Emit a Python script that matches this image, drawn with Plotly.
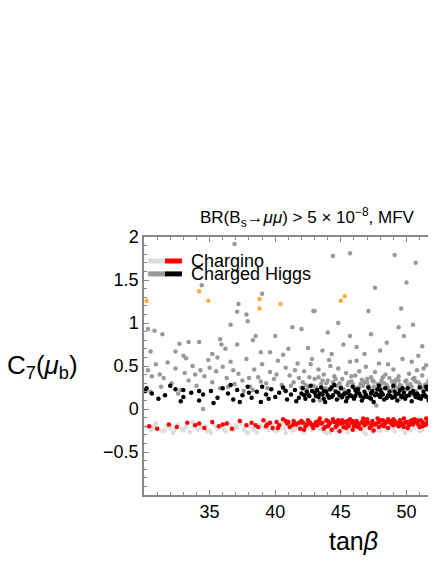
import plotly.graph_objects as go

# tan(beta) vs C7(mu_b) scan points
chargino_light = [
    (30.2, -0.21), (30.5, -0.24), (30.8, -0.19), (31.1, -0.23), (31.4, -0.26), (31.7, -0.20),
    (32.0, -0.22), (32.3, -0.25), (32.6, -0.18), (32.9, -0.23), (33.2, -0.21), (33.5, -0.27),
    (33.8, -0.19), (34.1, -0.24), (34.4, -0.22), (34.7, -0.20), (35.0, -0.25), (35.3, -0.18),
    (35.6, -0.23), (35.9, -0.21), (36.2, -0.26), (36.5, -0.19), (36.8, -0.24), (37.1, -0.22),
    (37.4, -0.17), (37.7, -0.25), (38.0, -0.20), (38.3, -0.23), (38.6, -0.27), (38.9, -0.19),
    (39.2, -0.22), (39.5, -0.24), (39.8, -0.18), (40.1, -0.26), (40.4, -0.21), (40.7, -0.23),
    (41.0, -0.19), (41.3, -0.25), (41.6, -0.22), (41.9, -0.20), (42.2, -0.27), (42.5, -0.18),
    (42.8, -0.24), (43.1, -0.21), (43.4, -0.23), (43.7, -0.26), (44.0, -0.19), (44.3, -0.22),
    (44.6, -0.25), (44.9, -0.20), (45.2, -0.23), (45.5, -0.27), (45.8, -0.18), (46.1, -0.24),
    (46.4, -0.21), (46.7, -0.26), (47.0, -0.19), (47.3, -0.23), (47.6, -0.22), (47.9, -0.25),
    (48.2, -0.20), (48.5, -0.24), (48.8, -0.18), (49.1, -0.26), (49.4, -0.21), (49.7, -0.23),
    (50.0, -0.19), (50.3, -0.25), (50.6, -0.22), (50.9, -0.20), (51.2, -0.24), (51.5, -0.18),
    (51.8, -0.23), (52.1, -0.21), (30.9, -0.16), (32.2, -0.28), (33.7, -0.15), (35.1, -0.28),
    (36.4, -0.16), (37.9, -0.28), (39.3, -0.15), (40.8, -0.28), (42.3, -0.15), (43.9, -0.28),
    (45.4, -0.16), (46.9, -0.29), (48.4, -0.15), (49.9, -0.28), (51.4, -0.16), (31.6, -0.25),
    (34.8, -0.26), (36.9, -0.21), (38.4, -0.24), (41.2, -0.22), (44.5, -0.25), (47.4, -0.27),
    (30.7, -0.22), (31.9, -0.20), (33.0, -0.25), (34.3, -0.18), (35.5, -0.21), (36.1, -0.24),
    (37.0, -0.19), (37.6, -0.23), (38.8, -0.21), (39.9, -0.25), (40.5, -0.17), (41.5, -0.24),
    (42.6, -0.21), (43.5, -0.19), (44.2, -0.27), (45.0, -0.22), (46.0, -0.20), (46.8, -0.23),
    (48.0, -0.25), (49.0, -0.22), (50.2, -0.24), (51.0, -0.26), (51.7, -0.20), (52.0, -0.25),
]
chargino_red = [
    (30.4, -0.20), (31.0, -0.23), (31.9, -0.18), (32.5, -0.21), (33.3, -0.16), (33.9, -0.19),
    (34.6, -0.22), (35.2, -0.15), (35.7, -0.20), (36.3, -0.17), (36.7, -0.23), (37.3, -0.14),
    (37.8, -0.19), (38.2, -0.16), (38.7, -0.21), (39.1, -0.13), (39.4, -0.18), (39.8, -0.22),
    (40.1, -0.15), (40.3, -0.19), (40.6, -0.12), (40.9, -0.17), (41.1, -0.21), (41.4, -0.14),
    (41.6, -0.18), (41.9, -0.23), (42.1, -0.16), (42.3, -0.20), (42.5, -0.13), (42.7, -0.17),
    (42.9, -0.22), (43.1, -0.15), (43.2, -0.19), (43.4, -0.11), (43.6, -0.16), (43.8, -0.21),
    (44.0, -0.14), (44.1, -0.18), (44.3, -0.24), (44.5, -0.15), (44.7, -0.19), (44.8, -0.13),
    (45.0, -0.17), (45.2, -0.21), (45.3, -0.15), (45.5, -0.18), (45.7, -0.12), (45.8, -0.16),
    (46.0, -0.20), (46.2, -0.14), (46.3, -0.17), (46.5, -0.23), (46.6, -0.15), (46.8, -0.19),
    (47.0, -0.12), (47.1, -0.16), (47.3, -0.20), (47.4, -0.14), (47.6, -0.18), (47.8, -0.11),
    (47.9, -0.15), (48.1, -0.19), (48.2, -0.13), (48.4, -0.17), (48.6, -0.22), (48.7, -0.14),
    (48.9, -0.18), (49.0, -0.12), (49.2, -0.16), (49.4, -0.20), (49.5, -0.13), (49.7, -0.17),
    (49.8, -0.11), (50.0, -0.15), (50.2, -0.19), (50.3, -0.14), (50.5, -0.18), (50.6, -0.12),
    (50.8, -0.16), (51.0, -0.21), (51.1, -0.13), (51.3, -0.17), (51.5, -0.11), (51.6, -0.15),
    (51.8, -0.19), (51.9, -0.13), (52.1, -0.16), (40.2, -0.22), (40.8, -0.14), (41.3, -0.19),
    (41.8, -0.16), (42.2, -0.24), (42.8, -0.19), (43.3, -0.14), (43.7, -0.23), (44.2, -0.16),
    (44.6, -0.21), (45.1, -0.13), (45.6, -0.20), (45.9, -0.24), (46.4, -0.18), (46.9, -0.15),
    (47.2, -0.22), (47.7, -0.17), (48.0, -0.13), (48.3, -0.20), (48.8, -0.16), (49.1, -0.14),
    (49.6, -0.19), (49.9, -0.16), (50.4, -0.13), (50.9, -0.18), (51.2, -0.15), (51.7, -0.12),
    (52.0, -0.18), (43.0, -0.18), (44.4, -0.12), (45.4, -0.22), (46.7, -0.11), (47.5, -0.25),
    (48.5, -0.15), (49.3, -0.18), (50.1, -0.22), (50.7, -0.14), (51.4, -0.19), (44.9, -0.26),
    (46.1, -0.17), (41.5, -0.17), (39.6, -0.16), (38.5, -0.19), (36.0, -0.18), (34.2, -0.17),
    (42.0, -0.14), (42.4, -0.18), (43.5, -0.17), (43.9, -0.13), (44.7, -0.15), (45.2, -0.16),
    (45.9, -0.14), (46.3, -0.21), (46.8, -0.17), (47.4, -0.18), (47.9, -0.21), (48.3, -0.15),
    (48.6, -0.12), (49.0, -0.19), (49.5, -0.15), (49.8, -0.21), (50.3, -0.17), (50.8, -0.13),
    (51.2, -0.20), (51.6, -0.17), (52.0, -0.14), (41.0, -0.15), (42.6, -0.15), (44.0, -0.20),
    (45.5, -0.14), (47.0, -0.17), (48.9, -0.14), (50.5, -0.16), (51.9, -0.21), (39.3, -0.20),
]
higgs_gray = [
    (30.3, 0.93), (30.8, 0.91), (31.4, 0.87), (30.5, 0.67), (32.4, 0.67), (32.7, 0.76),
    (33.4, 0.78), (34.2, 0.78), (34.4, 1.44), (37.2, 1.22), (37.1, 1.13), (37.8, 1.10),
    (37.9, 1.02), (36.6, 0.98), (35.8, 0.81), (35.9, 0.75), (37.1, 0.75), (38.5, 0.85),
    (38.3, 0.80), (40.0, 0.85), (41.3, 0.95), (42.0, 0.93), (42.9, 1.14), (44.8, 1.00),
    (44.0, 0.89), (45.7, 0.85), (45.2, 0.75), (47.3, 0.87), (47.1, 1.14), (49.6, 1.17),
    (49.4, 0.95), (50.5, 0.98), (49.8, 0.85), (48.5, 0.77), (51.2, 0.73), (36.9, 1.92),
    (44.4, 1.78), (45.7, 1.81), (49.1, 1.79), (50.7, 1.70), (50.0, 1.47), (47.6, 1.41),
    (51.9, 1.37), (39.0, 1.34), (43.0, 1.14), (39.6, 0.66), (41.0, 0.70), (43.6, 0.68),
    (46.2, 0.72), (46.8, 0.64), (48.0, 0.68), (50.9, 0.62), (52.0, 0.66), (33.0, 0.62),
    (35.2, 0.64), (36.2, 0.70), (38.9, 0.66), (40.6, 0.63), (42.5, 0.71), (44.3, 0.64),
    (30.3, 0.45), (30.6, 0.38), (30.9, 0.52), (31.2, 0.40), (31.5, 0.36), (31.8, 0.54),
    (32.1, 0.30), (32.4, 0.47), (32.8, 0.22), (33.1, 0.42), (33.4, 0.33), (33.7, 0.50),
    (34.0, 0.27), (34.3, 0.45), (34.6, 0.38), (34.9, 0.57), (35.2, 0.31), (35.5, 0.44),
    (35.8, 0.24), (36.0, 0.49), (36.3, 0.36), (36.6, 0.55), (36.9, 0.29), (37.2, 0.41),
    (37.5, 0.33), (37.8, 0.58), (38.1, 0.26), (38.4, 0.46), (38.7, 0.37), (39.0, 0.52),
    (39.3, 0.30), (39.6, 0.43), (39.9, 0.35), (40.2, 0.56), (40.5, 0.28), (40.8, 0.48),
    (41.1, 0.39), (41.4, 0.31), (41.7, 0.53), (42.0, 0.25), (30.5, 0.20), (31.3, 0.26),
    (32.6, 0.18), (33.9, 0.40), (35.0, 0.48), (36.8, 0.45), (37.6, 0.21), (38.9, 0.32),
    (40.1, 0.40), (41.5, 0.45), (34.5, 0.00), (38.0, 0.36), (35.6, 0.60), (33.2, 0.59),
    (42.1, 0.31), (42.2, 0.44), (42.4, 0.22), (42.6, 0.37), (42.7, 0.52), (42.9, 0.27),
    (43.0, 0.35), (43.2, 0.19), (43.3, 0.46), (43.5, 0.29), (43.7, 0.40), (43.8, 0.24),
    (44.0, 0.33), (44.1, 0.57), (44.3, 0.26), (44.5, 0.38), (44.6, 0.21), (44.8, 0.47),
    (44.9, 0.30), (45.1, 0.35), (45.2, 0.23), (45.4, 0.42), (45.5, 0.28), (45.7, 0.55),
    (45.8, 0.32), (46.0, 0.25), (46.1, 0.39), (46.3, 0.20), (46.4, 0.44), (46.6, 0.34),
    (46.7, 0.27), (46.9, 0.49), (47.0, 0.31), (47.2, 0.22), (47.3, 0.37), (47.5, 0.26),
    (47.6, 0.43), (47.8, 0.29), (47.9, 0.53), (48.1, 0.33), (48.2, 0.24), (48.4, 0.40),
    (48.5, 0.28), (48.7, 0.36), (48.8, 0.21), (49.0, 0.46), (49.1, 0.30), (49.3, 0.25),
    (49.4, 0.38), (49.6, 0.27), (49.7, 0.58), (49.9, 0.32), (50.0, 0.23), (50.2, 0.41),
    (50.3, 0.29), (50.5, 0.35), (50.6, 0.20), (50.8, 0.45), (50.9, 0.31), (51.1, 0.26),
    (51.2, 0.39), (51.4, 0.28), (51.5, 0.51), (51.7, 0.33), (51.8, 0.24), (52.0, 0.37),
    (52.1, 0.29), (42.3, 0.28), (43.1, 0.25), (43.9, 0.30), (44.7, 0.27), (45.6, 0.31),
    (46.5, 0.29), (47.4, 0.33), (48.3, 0.30), (49.2, 0.34), (50.1, 0.28), (50.7, 0.32),
    (51.6, 0.30), (42.8, 0.58), (44.2, 0.50), (46.2, 0.56), (48.6, 0.52), (50.4, 0.55),
    (51.3, 0.47), (43.4, 0.10), (47.7, 0.04), (45.0, 0.13), (49.5, 0.12), (51.9, 0.14),
    (42.5, 0.26), (43.0, 0.21), (43.6, 0.33), (44.1, 0.23), (44.4, 0.31), (45.0, 0.26),
    (45.3, 0.20), (45.9, 0.29), (46.2, 0.24), (46.8, 0.31), (47.1, 0.27), (47.7, 0.23),
    (48.0, 0.29), (48.6, 0.25), (48.9, 0.32), (49.5, 0.28), (49.8, 0.22), (50.4, 0.26),
    (50.7, 0.21), (51.0, 0.29), (51.3, 0.23), (51.9, 0.27), (52.2, 0.22), (43.3, 0.37),
    (44.6, 0.35), (45.8, 0.38), (47.0, 0.35), (48.2, 0.37), (49.4, 0.33), (50.6, 0.36),
    (51.8, 0.34), (46.4, 0.25), (47.5, 0.32), (49.0, 0.24), (50.0, 0.33), (51.5, 0.25),
    (39.4, 0.24), (40.7, 0.22), (41.2, 0.27), (41.8, 0.36), (36.4, 0.26), (38.3, 0.22),
]
higgs_black = [
    (30.1, 0.21), (30.2, 0.24), (31.1, 0.12), (32.4, 0.23), (33.0, 0.22), (34.2, 0.10),
    (33.0, 0.14), (34.2, 0.21), (34.5, 0.17), (35.1, 0.21), (30.6, 0.18), (31.6, 0.16),
    (32.0, 0.27), (32.8, 0.09), (33.6, 0.19), (35.6, 0.13), (36.0, 0.24), (36.4, 0.18),
    (36.8, 0.11), (37.1, 0.22), (37.5, 0.16), (37.9, 0.26), (38.2, 0.13), (38.6, 0.20),
    (38.9, 0.08), (39.3, 0.17), (39.7, 0.23), (40.0, 0.14), (40.3, 0.19), (40.6, 0.25),
    (40.9, 0.11), (41.2, 0.17), (41.5, 0.22), (41.8, 0.13), (35.3, 0.07), (36.6, 0.28),
    (38.0, 0.19), (39.5, 0.12), (40.8, 0.21), (41.6, 0.09), (37.3, 0.08), (39.0, 0.26),
    (42.0, 0.18), (42.1, 0.24), (42.3, 0.12), (42.4, 0.20), (42.6, 0.15), (42.7, 0.27),
    (42.9, 0.10), (43.0, 0.19), (43.2, 0.22), (43.3, 0.14), (43.5, 0.25), (43.6, 0.17),
    (43.8, 0.08), (43.9, 0.20), (44.1, 0.13), (44.2, 0.23), (44.4, 0.16), (44.5, 0.28),
    (44.7, 0.11), (44.8, 0.19), (45.0, 0.24), (45.1, 0.14), (45.3, 0.18), (45.4, 0.09),
    (45.6, 0.21), (45.7, 0.16), (45.9, 0.26), (46.0, 0.12), (46.2, 0.19), (46.3, 0.23),
    (46.5, 0.15), (46.6, 0.10), (46.8, 0.20), (46.9, 0.17), (47.1, 0.25), (47.2, 0.13),
    (47.4, 0.21), (47.5, 0.08), (47.7, 0.18), (47.8, 0.23), (48.0, 0.14), (48.1, 0.19),
    (48.3, 0.11), (48.4, 0.24), (48.6, 0.16), (48.7, 0.20), (48.9, 0.13), (49.0, 0.27),
    (49.2, 0.17), (49.3, 0.10), (49.5, 0.22), (49.6, 0.15), (49.8, 0.19), (49.9, 0.12),
    (50.1, 0.24), (50.2, 0.16), (50.4, 0.09), (50.5, 0.21), (50.7, 0.14), (50.8, 0.18),
    (51.0, 0.25), (51.1, 0.12), (51.3, 0.20), (51.4, 0.16), (51.6, 0.23), (51.7, 0.10),
    (51.9, 0.18), (52.0, 0.14), (52.1, 0.21), (42.2, 0.16), (42.8, 0.21), (43.4, 0.18),
    (44.0, 0.16), (44.6, 0.20), (45.2, 0.17), (45.8, 0.15), (46.4, 0.18), (47.0, 0.14),
    (47.6, 0.16), (48.2, 0.17), (48.8, 0.15), (49.4, 0.18), (50.0, 0.15), (50.6, 0.17),
    (51.2, 0.15), (51.8, 0.16), (43.7, 0.12), (45.5, 0.13), (47.3, 0.12), (49.1, 0.14),
    (50.9, 0.13), (44.3, 0.25), (46.1, 0.22), (47.9, 0.27), (49.7, 0.24), (51.5, 0.26),
    (42.5, 0.17), (43.1, 0.15), (43.7, 0.21), (44.3, 0.14), (44.9, 0.16), (45.5, 0.19),
    (46.1, 0.15), (46.7, 0.13), (47.3, 0.18), (47.9, 0.16), (48.5, 0.13), (49.1, 0.20),
    (49.7, 0.14), (50.3, 0.19), (50.9, 0.16), (51.5, 0.14), (52.1, 0.17), (48.0, 0.22),
]
orange_pts = [
    (30.2, 1.26), (34.2, 1.37), (34.9, 1.26), (38.8, 1.28), (38.8, 1.17), (40.4, 1.22),
    (45.0, 1.26), (45.3, 1.31),
]

series = [
    (chargino_light, '#dddddd'),
    (higgs_gray, '#999999'),
    (orange_pts, '#ffaa44'),
    (higgs_black, '#000000'),
    (chargino_red, '#ff0000'),
]

fig = go.Figure(layout={'width': 428, 'height': 556})
for pts, col in series:
    fig.add_trace(go.Scatter(
        x=[p[0] for p in pts], y=[p[1] for p in pts],
        mode='markers', marker=dict(size=4.5, color=col, line=dict(width=0)),
        showlegend=False, hoverinfo='skip',
    ))

x_ticks = [35, 40, 45, 50]
y_ticks = [-0.5, 0, 0.5, 1, 1.5, 2]
y_labels = ['\u22120.5', '0', '0.5', '1', '1.5', '2']

axis_font = dict(family='Arial, Liberation Sans', size=18, color='black')
fig.update_xaxes(
    range=[30, 52.25], tickvals=x_ticks, ticktext=[str(t) for t in x_ticks],
    ticks='inside', ticklen=5, tickcolor='#888', tickwidth=1,
    minor=dict(dtick=1, ticks='inside', ticklen=3, tickcolor='#888'),
    showline=True, linecolor='#888', linewidth=1.5, mirror='ticks',
    showgrid=False, zeroline=False, tickfont=axis_font,
)
fig.update_yaxes(
    range=[-1, 2], tickvals=y_ticks, ticktext=y_labels,
    ticks='inside', ticklen=5, tickcolor='#888', tickwidth=1,
    minor=dict(dtick=0.1, ticks='inside', ticklen=3, tickcolor='#888'),
    showline=True, linecolor='#888', linewidth=1.5,
    showgrid=False, zeroline=False, tickfont=axis_font,
)

# legend drawn by hand: two-tone swatches like the original
for yy, c1, c2 in [(0.907, '#dddddd', '#ff0000'), (0.857, '#999999', '#000000')]:
    fig.add_shape(type='line', xref='paper', yref='paper', x0=0.014, x1=0.072, y0=yy, y1=yy,
                  line=dict(color=c1, width=5))
    fig.add_shape(type='line', xref='paper', yref='paper', x0=0.072, x1=0.130, y0=yy, y1=yy,
                  line=dict(color=c2, width=5))

txt = dict(family='Arial, Liberation Sans', color='black')
fig.add_annotation(text='Chargino', x=0.155, y=0.907, xref='paper', yref='paper',
                   xanchor='left', yanchor='middle', showarrow=False, font=dict(size=18, **txt))
fig.add_annotation(text='Charged Higgs', x=0.155, y=0.857, xref='paper', yref='paper',
                   xanchor='left', yanchor='middle', showarrow=False, font=dict(size=18, **txt))
fig.add_annotation(text='BR(B<sub>s</sub>\u2192<i>\u03bc\u03bc</i>) > 5 \u00d7 10<sup>\u22128</sup>, MFV',
                   x=0.185, y=1.074, xref='paper', yref='paper', xanchor='left', yanchor='middle',
                   showarrow=False, font=dict(size=17, **txt))
fig.add_annotation(text='C<sub>7</sub>(<i>\u03bc</i><sub>b</sub>)', x=-0.476, y=0.50,
                   xref='paper', yref='paper', xanchor='left', yanchor='middle',
                   showarrow=False, font=dict(size=26, **txt))
fig.add_annotation(text='tan<i>\u03b2</i>', x=0.716, y=-0.178, xref='paper', yref='paper',
                   xanchor='center', yanchor='middle', showarrow=False, font=dict(size=25, **txt))

fig.update_layout(
    margin=dict(l=136, r=0, t=229, b=69),
    paper_bgcolor='white', plot_bgcolor='white',
    showlegend=False,
)
fig.write_html("out.html")
